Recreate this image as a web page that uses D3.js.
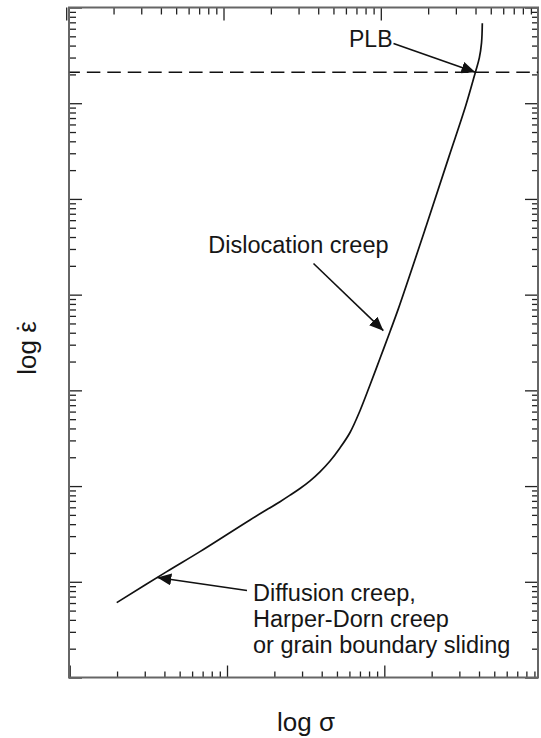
<!DOCTYPE html>
<html>
<head>
<meta charset="utf-8">
<script src="https://cdn.jsdelivr.net/npm/d3@7"></script>
<style>
  html, body { margin: 0; padding: 0; background: #fff; }
  svg { display: block; }
  text { font-family: "Liberation Sans", Arial, Helvetica, sans-serif; fill: #161616; }
</style>
</head>
<body>
<svg id="chart" width="541" height="738"></svg>
<script>
// Deformation-mechanism curve: log10 stress vs log10 strain rate
const logStress = [0.299, 0.617, 0.828, 1.146, 1.337, 1.401, 1.464, 1.528, 1.591,
                   1.655, 1.718, 1.782, 1.846, 1.909, 1.973, 2.036, 2.089, 2.265,
                   2.411, 2.516, 2.579, 2.604, 2.618, 2.623];
const logRate   = [0.782, 1.106, 1.315, 1.646, 1.837, 1.905, 1.975, 2.055, 2.149,
                   2.262, 2.398, 2.560, 2.790, 3.056, 3.335, 3.613, 3.851, 4.711,
                   5.442, 5.965, 6.324, 6.473, 6.630, 6.836];

// Power-law breakdown level (log10 strain rate)
const plbLogRate = 6.324;

// Axis extents in decades
const stressDecades = [0, 2.977];
const rateDecades = [0, 7];

// Axis titles (strain-rate symbol carries a dot accent)
const xTitle = "log σ";
const yTitleBase = "log ε";
const yTitleAccent = "\u02D9";

// Annotation texts and the curve points they point to (log10 units)
const annoLabels  = [["PLB"], ["Dislocation creep"],
                     ["Diffusion creep,", "Harper-Dorn creep", "or grain boundary sliding"]];
const annoTargetX = [2.579, 1.994, 0.557];
const annoTargetY = [6.324, 3.624, 1.045];

const svg = d3.select("#chart");
const plotL = 69.7, plotR = 538, plotT = 7.5, plotB = 677.5;

const x = d3.scaleLog()
  .domain(stressDecades.map(d => Math.pow(10, d)))
  .range([plotL, plotR]);
const y = d3.scaleLog()
  .domain(rateDecades.map(d => Math.pow(10, d)))
  .range([plotB, plotT]);

const isMajor = v => Math.abs(Math.log10(v) - Math.round(Math.log10(v))) < 1e-9;
const xTicks = x.ticks(), yTicks = y.ticks();
const xMinor = xTicks.filter(v => !isMajor(v)), xMajor = xTicks.filter(isMajor);
const yMinor = yTicks.filter(v => !isMajor(v)), yMajor = yTicks.filter(isMajor);

function styleAxis(g) {
  g.select(".domain").remove();
  g.selectAll(".tick line").attr("stroke", "#222").attr("stroke-width", 1.3);
  g.selectAll(".tick text").remove();
}

function addAxis(axisFn, scale, minor, major, minorLen, majorLen, transform) {
  svg.append("g").attr("transform", transform)
    .call(axisFn(scale).tickValues(minor).tickSize(-minorLen).tickFormat(""))
    .call(styleAxis);
  svg.append("g").attr("transform", transform)
    .call(axisFn(scale).tickValues(major).tickSize(-majorLen).tickFormat(""))
    .call(styleAxis);
}

// Inward ticks on all four sides
addAxis(d3.axisBottom, x, xMinor, xMajor, 6, 12, `translate(0,${plotB})`);
addAxis(d3.axisTop,    x, xMinor, xMajor, 7, 13, `translate(-3.5,${plotT})`);
addAxis(d3.axisLeft,   y, yMinor, yMajor, 7, 13, `translate(${plotL - 0.7},0)`);
addAxis(d3.axisRight,  y, yMinor, yMajor, 6, 13, `translate(${plotR},0)`);

// Frame
svg.append("rect")
  .attr("x", plotL - 0.7).attr("y", plotT)
  .attr("width", plotR - plotL + 0.7).attr("height", plotB - plotT)
  .attr("fill", "none").attr("stroke", "#666").attr("stroke-width", 2);

// Power-law breakdown dashed level
svg.append("line")
  .attr("x1", plotL).attr("x2", plotR)
  .attr("y1", y(Math.pow(10, plbLogRate))).attr("y2", y(Math.pow(10, plbLogRate)))
  .attr("stroke", "#111").attr("stroke-width", 1.5)
  .attr("stroke-dasharray", "13.5,6.95").attr("stroke-dashoffset", 3.3);

// Curve
const pts = logStress.map((s, i) => [Math.pow(10, s), Math.pow(10, logRate[i])]);
svg.append("path")
  .datum(pts)
  .attr("fill", "none").attr("stroke", "#111").attr("stroke-width", 1.7)
  .attr("stroke-linejoin", "round")
  .attr("d", d3.line().x(d => x(d[0])).y(d => y(d[1])).curve(d3.curveCatmullRom.alpha(0.5)));

// Arrowhead
svg.append("defs").append("marker")
  .attr("id", "head").attr("viewBox", "0 0 14 12")
  .attr("refX", 14).attr("refY", 6)
  .attr("markerWidth", 14).attr("markerHeight", 12)
  .attr("markerUnits", "userSpaceOnUse").attr("orient", "auto")
  .append("path").attr("d", "M0,0L14,6L0,12Z").attr("fill", "#111");

// Annotation layout: text origin, font size, arrow tail
const annoText = [[349, 46.7], [208.3, 252.7], [253, 600.5]];
const annoSize = [23, 23.5, 23.5];
const annoTail = [[393.5, 43.5], [313.5, 263.5], [247, 590.5]];

annoLabels.forEach((lines, i) => {
  const t = svg.append("text")
    .attr("x", annoText[i][0]).attr("y", annoText[i][1])
    .style("font-size", annoSize[i] + "px");
  lines.forEach((ln, j) => {
    t.append("tspan").attr("x", annoText[i][0]).attr("dy", j === 0 ? 0 : 26).text(ln);
  });
  svg.append("line")
    .attr("x1", annoTail[i][0]).attr("y1", annoTail[i][1])
    .attr("x2", x(Math.pow(10, annoTargetX[i])))
    .attr("y2", y(Math.pow(10, annoTargetY[i])))
    .attr("stroke", "#111").attr("stroke-width", 1.6)
    .attr("marker-end", "url(#head)");
});

// Axis titles
svg.append("text")
  .attr("x", 306).attr("y", 731)
  .attr("text-anchor", "middle")
  .style("font-size", "26px")
  .text(xTitle);

const yt = svg.append("text")
  .attr("transform", "translate(36,348) rotate(-90)")
  .attr("text-anchor", "middle")
  .style("font-size", "26px");
yt.append("tspan").text(yTitleBase);
const accent = yt.append("tspan").text(yTitleAccent);
// centre the dot over the epsilon
const n = yTitleBase.length;
const epsW = yt.node().getSubStringLength(n - 1, 1);
const dotW = yt.node().getSubStringLength(n, 1);
accent.attr("dx", -(epsW + dotW) / 2);
</script>
</body>
</html>
